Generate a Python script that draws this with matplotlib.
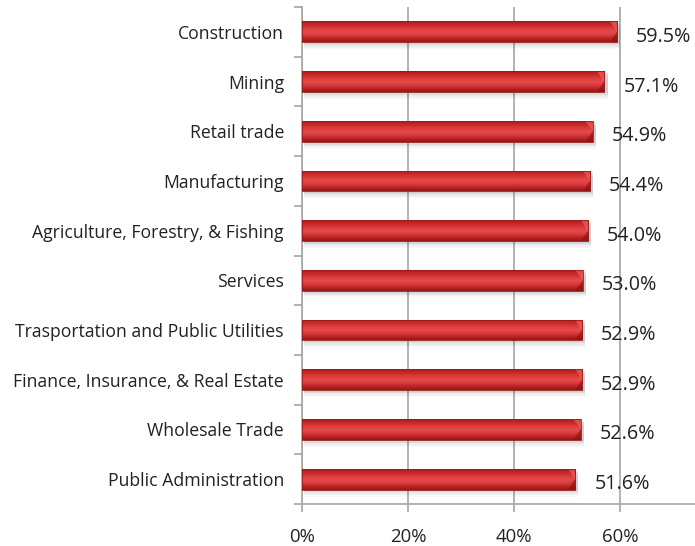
"""
Share of workers by industry, drawn as shaded horizontal bars.
"""

import matplotlib.pyplot as plt
import numpy as np
from matplotlib.colors import LinearSegmentedColormap
from matplotlib.patches import Polygon, Rectangle
from matplotlib.ticker import FuncFormatter, MultipleLocator

industries = [
    "Construction",
    "Mining",
    "Retail trade",
    "Manufacturing",
    "Agriculture, Forestry, & Fishing",
    "Services",
    "Trasportation and Public Utilities",
    "Finance, Insurance, & Real Estate",
    "Wholesale Trade",
    "Public Administration",
]
shares = [0.595, 0.571, 0.549, 0.544, 0.540, 0.530, 0.529, 0.529, 0.526, 0.516]
value_labels = ["59.5%", "57.1%", "54.9%", "54.4%", "54.0%",
                "53.0%", "52.9%", "52.9%", "52.6%", "51.6%"]


def main() -> None:
    plt.rcParams["font.family"] = ["Open Sans", "DejaVu Sans"]

    fig = plt.figure(figsize=(6.95, 5.46), dpi=100)
    ax = fig.add_axes([0.4345, 0.0769, 0.5655, 0.9103])

    n = len(industries)
    ypos = np.arange(n)
    bar_h = 0.42

    # -----------------------------
    # Gridlines and axes
    # -----------------------------
    ax.set_xlim(0, 0.742)
    ax.set_ylim(n - 0.5, -0.5)
    ax.xaxis.set_major_locator(MultipleLocator(0.2))
    ax.xaxis.set_major_formatter(FuncFormatter(lambda v, _: f"{v * 100:.0f}%"))
    ax.grid(axis="x", color="#a6a6a6", linewidth=1.2, zorder=0)
    ax.set_axisbelow(True)

    for side in ("top", "right"):
        ax.spines[side].set_visible(False)
    ax.spines["left"].set_color("#a6a6a6")
    ax.spines["bottom"].set_color("#a6a6a6")
    ax.spines["left"].set_linewidth(1.2)
    ax.spines["bottom"].set_linewidth(1.2)

    ax.set_yticks(ypos)
    ax.set_yticklabels(industries, fontsize=12.7, color="#222222")
    ax.set_yticks(np.arange(n + 1) - 0.5, minor=True)
    ax.tick_params(axis="y", which="major", length=0, pad=13)
    ax.tick_params(axis="y", which="minor", length=6, color="#a6a6a6", width=1.2)
    ax.tick_params(axis="x", length=6, color="#a6a6a6", width=1.2,
                   labelsize=13.4, labelcolor="#222222", pad=11)

    # -----------------------------
    # Bars with cylinder shading
    # -----------------------------
    shade = LinearSegmentedColormap.from_list(
        "red_tube",
        ["#a81c1c", "#c82828", "#dc3a3a", "#e44c4c", "#da3c3c", "#bc2424", "#921818"],
    )
    grad = np.linspace(0, 1, 64).reshape(-1, 1)

    bars = ax.barh(ypos, shares, height=bar_h, color="none", zorder=3)
    for bar, val, label in zip(bars, shares, value_labels):
        y0 = bar.get_y()
        y1 = y0 + bar.get_height()

        # soft drop shadow
        for k, a in enumerate([0.10, 0.08, 0.06, 0.045, 0.03]):
            off = 0.03 + k * 0.028
            ax.add_patch(Rectangle((0.004, y0 + off), val + 0.002, bar_h,
                                   facecolor="#555555", edgecolor="none",
                                   alpha=a, zorder=2))

        img = ax.imshow(grad, cmap=shade, aspect="auto",
                        extent=(0, val, y1, y0), zorder=3,
                        interpolation="bicubic")
        img.set_clip_path(bar)

        # bevelled end cap: light upper facet, dark lower facet
        cap = 0.014
        ym = (y0 + y1) / 2
        ax.add_patch(Polygon([(val - cap, y0), (val, y0), (val, ym)],
                             closed=True, facecolor="#e86060", edgecolor="none",
                             alpha=0.7, zorder=4))
        ax.add_patch(Polygon([(val, ym), (val, y1), (val - cap, y1)],
                             closed=True, facecolor="#8c1414", edgecolor="none",
                             alpha=0.7, zorder=4))
        ax.add_patch(Rectangle((0, y0), val, bar_h, facecolor="none",
                               edgecolor="#9a1a1a", linewidth=0.6, zorder=4))

        ax.text(val + 0.036, ym + 0.1, label, fontsize=14.2,
                color="#222222", va="center", ha="left", zorder=5)

    ax.set_xlim(0, 0.742)
    ax.set_ylim(n - 0.5, -0.5)

    fig.savefig("out.png", dpi=100, facecolor="white")


if __name__ == "__main__":
    main()
